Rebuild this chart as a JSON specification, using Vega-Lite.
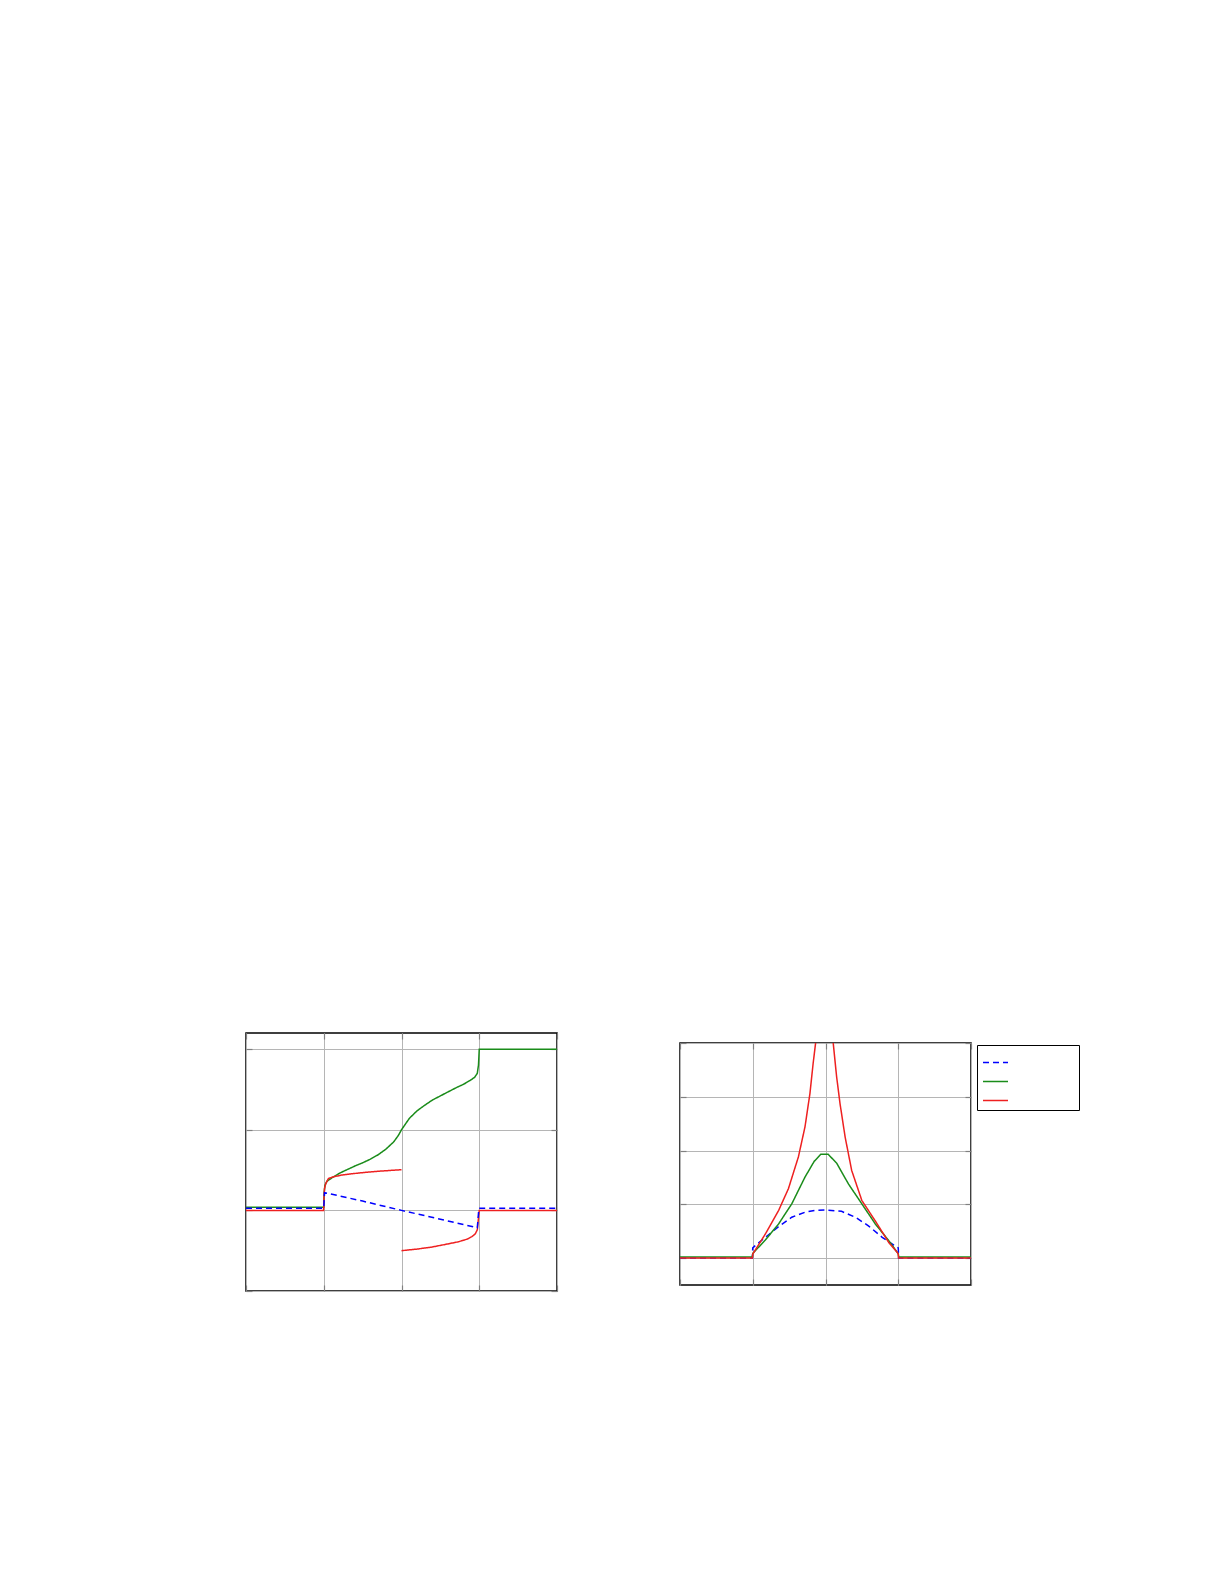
{
  "$schema": "https://vega.github.io/schema/vega-lite/v6.json",
  "padding": {"left": 244, "top": 1031, "right": 0, "bottom": 0},
  "background": "white",
  "config": {
    "view": {"stroke": "black", "strokeWidth": 1.5},
    "axis": {"labels": false, "title": null, "domain": false, "ticks": true, "tickSize": -6, "tickColor": "#808080", "tickWidth": 1.2, "gridColor": "#b5b5b5", "gridWidth": 1},
    "line": {"strokeWidth": 1.5}
  },
  "datasets": {
    "left": [
      {"x": 0, "y": 0.04, "s": "s2", "p": "a"}, {"x": 1.0, "y": 0.04, "s": "s2", "p": "a"}, {"x": 1.005, "y": 0.22, "s": "s2", "p": "a"},
      {"x": 1.015, "y": 0.31, "s": "s2", "p": "a"}, {"x": 1.04, "y": 0.36, "s": "s2", "p": "a"}, {"x": 1.1, "y": 0.40, "s": "s2", "p": "a"},
      {"x": 1.2, "y": 0.46, "s": "s2", "p": "a"}, {"x": 1.3, "y": 0.505, "s": "s2", "p": "a"}, {"x": 1.4, "y": 0.55, "s": "s2", "p": "a"},
      {"x": 1.5, "y": 0.59, "s": "s2", "p": "a"}, {"x": 1.6, "y": 0.635, "s": "s2", "p": "a"}, {"x": 1.7, "y": 0.69, "s": "s2", "p": "a"},
      {"x": 1.8, "y": 0.76, "s": "s2", "p": "a"}, {"x": 1.9, "y": 0.85, "s": "s2", "p": "a"}, {"x": 1.96, "y": 0.93, "s": "s2", "p": "a"},
      {"x": 2.0, "y": 1.0, "s": "s2", "p": "a"}, {"x": 2.05, "y": 1.07, "s": "s2", "p": "a"}, {"x": 2.1, "y": 1.14, "s": "s2", "p": "a"},
      {"x": 2.2, "y": 1.235, "s": "s2", "p": "a"}, {"x": 2.3, "y": 1.305, "s": "s2", "p": "a"}, {"x": 2.4, "y": 1.37, "s": "s2", "p": "a"},
      {"x": 2.5, "y": 1.42, "s": "s2", "p": "a"}, {"x": 2.6, "y": 1.47, "s": "s2", "p": "a"}, {"x": 2.7, "y": 1.52, "s": "s2", "p": "a"},
      {"x": 2.8, "y": 1.565, "s": "s2", "p": "a"}, {"x": 2.88, "y": 1.61, "s": "s2", "p": "a"}, {"x": 2.94, "y": 1.65, "s": "s2", "p": "a"},
      {"x": 2.975, "y": 1.7, "s": "s2", "p": "a"}, {"x": 2.99, "y": 1.8, "s": "s2", "p": "a"}, {"x": 3.0, "y": 2.0, "s": "s2", "p": "a"},
      {"x": 4.0, "y": 2.0, "s": "s2", "p": "a"},
      {"x": 0, "y": 0, "s": "s3", "p": "a"}, {"x": 0.998, "y": 0, "s": "s3", "p": "a"}, {"x": 1.003, "y": 0.15, "s": "s3", "p": "a"},
      {"x": 1.01, "y": 0.27, "s": "s3", "p": "a"}, {"x": 1.025, "y": 0.33, "s": "s3", "p": "a"}, {"x": 1.06, "y": 0.395, "s": "s3", "p": "a"},
      {"x": 1.12, "y": 0.415, "s": "s3", "p": "a"}, {"x": 1.23, "y": 0.438, "s": "s3", "p": "a"}, {"x": 1.35, "y": 0.453, "s": "s3", "p": "a"},
      {"x": 1.53, "y": 0.471, "s": "s3", "p": "a"}, {"x": 1.7, "y": 0.485, "s": "s3", "p": "a"}, {"x": 1.85, "y": 0.495, "s": "s3", "p": "a"},
      {"x": 2.0, "y": 0.504, "s": "s3", "p": "a"},
      {"x": 2.0, "y": -0.5, "s": "s3", "p": "b"}, {"x": 2.2, "y": -0.48, "s": "s3", "p": "b"}, {"x": 2.39, "y": -0.455, "s": "s3", "p": "b"},
      {"x": 2.55, "y": -0.425, "s": "s3", "p": "b"}, {"x": 2.73, "y": -0.39, "s": "s3", "p": "b"}, {"x": 2.85, "y": -0.355, "s": "s3", "p": "b"},
      {"x": 2.905, "y": -0.326, "s": "s3", "p": "b"}, {"x": 2.95, "y": -0.29, "s": "s3", "p": "b"}, {"x": 2.975, "y": -0.24, "s": "s3", "p": "b"},
      {"x": 2.99, "y": -0.1, "s": "s3", "p": "b"}, {"x": 3.0, "y": 0, "s": "s3", "p": "b"}, {"x": 4.0, "y": 0, "s": "s3", "p": "b"},
      {"x": 0, "y": 0.025, "s": "s1", "p": "a"}, {"x": 1.0, "y": 0.025, "s": "s1", "p": "a"}, {"x": 1.01, "y": 0.22, "s": "s1", "p": "a"},
      {"x": 1.5, "y": 0.115, "s": "s1", "p": "a"}, {"x": 2.0, "y": 0.0, "s": "s1", "p": "a"}, {"x": 2.5, "y": -0.11, "s": "s1", "p": "a"},
      {"x": 2.975, "y": -0.215, "s": "s1", "p": "a"}, {"x": 2.995, "y": 0.025, "s": "s1", "p": "a"}, {"x": 4.0, "y": 0.025, "s": "s1", "p": "a"}
    ],
    "right": [
      {"x": 0, "y": 0, "s": "s1"}, {"x": 0.995, "y": 0, "s": "s1"}, {"x": 1.0, "y": 0.19, "s": "s1"}, {"x": 1.04, "y": 0.24, "s": "s1"},
      {"x": 1.173, "y": 0.386, "s": "s1"}, {"x": 1.355, "y": 0.585, "s": "s1"}, {"x": 1.536, "y": 0.76, "s": "s1"}, {"x": 1.718, "y": 0.853, "s": "s1"},
      {"x": 1.85, "y": 0.885, "s": "s1"}, {"x": 2.0, "y": 0.895, "s": "s1"}, {"x": 2.22, "y": 0.87, "s": "s1"}, {"x": 2.41, "y": 0.76, "s": "s1"},
      {"x": 2.59, "y": 0.6, "s": "s1"}, {"x": 2.78, "y": 0.386, "s": "s1"}, {"x": 2.94, "y": 0.24, "s": "s1"}, {"x": 3.0, "y": 0.19, "s": "s1"},
      {"x": 3.005, "y": 0, "s": "s1"}, {"x": 4.0, "y": 0, "s": "s1"},
      {"x": 0, "y": 0.02, "s": "s2"}, {"x": 0.995, "y": 0.02, "s": "s2"}, {"x": 1.0, "y": 0.087, "s": "s2"}, {"x": 1.173, "y": 0.336, "s": "s2"},
      {"x": 1.355, "y": 0.635, "s": "s2"}, {"x": 1.536, "y": 1.008, "s": "s2"}, {"x": 1.718, "y": 1.506, "s": "s2"}, {"x": 1.845, "y": 1.8, "s": "s2"},
      {"x": 1.935, "y": 1.93, "s": "s2"}, {"x": 2.037, "y": 1.93, "s": "s2"}, {"x": 2.153, "y": 1.767, "s": "s2"}, {"x": 2.315, "y": 1.38, "s": "s2"},
      {"x": 2.5, "y": 1.008, "s": "s2"}, {"x": 2.685, "y": 0.635, "s": "s2"}, {"x": 2.87, "y": 0.324, "s": "s2"}, {"x": 3.0, "y": 0.08, "s": "s2"},
      {"x": 3.005, "y": 0.02, "s": "s2"}, {"x": 4.0, "y": 0.02, "s": "s2"},
      {"x": 0, "y": 0, "s": "s3"}, {"x": 0.995, "y": 0, "s": "s3"}, {"x": 1.0, "y": 0.075, "s": "s3"}, {"x": 1.173, "y": 0.448, "s": "s3"},
      {"x": 1.355, "y": 0.884, "s": "s3"}, {"x": 1.49, "y": 1.29, "s": "s3"}, {"x": 1.627, "y": 1.88, "s": "s3"}, {"x": 1.718, "y": 2.44, "s": "s3"},
      {"x": 1.786, "y": 3.06, "s": "s3"}, {"x": 1.83, "y": 3.62, "s": "s3"}, {"x": 1.864, "y": 4.0, "s": "s3"}, {"x": 1.89, "y": 4.35, "s": "s3"},
      {"x": 2.08, "y": 4.35, "s": "s3"}, {"x": 2.106, "y": 4.0, "s": "s3"}, {"x": 2.153, "y": 3.37, "s": "s3"}, {"x": 2.2, "y": 2.87, "s": "s3"},
      {"x": 2.27, "y": 2.25, "s": "s3"}, {"x": 2.36, "y": 1.63, "s": "s3"}, {"x": 2.5, "y": 1.07, "s": "s3"}, {"x": 2.685, "y": 0.69, "s": "s3"},
      {"x": 2.87, "y": 0.29, "s": "s3"}, {"x": 2.986, "y": 0.106, "s": "s3"}, {"x": 3.0, "y": 0.075, "s": "s3"}, {"x": 3.005, "y": 0, "s": "s3"},
      {"x": 4.0, "y": 0, "s": "s3"}
    ]
  },
  "spacing": 119,
  "resolve": {"scale": {"color": "independent", "strokeDash": "independent"}, "legend": {"color": "independent", "strokeDash": "independent"}},
  "hconcat": [
    {
      "width": 311,
      "height": 258,
      "data": {"name": "left"},
      "layer": [
        {
          "mark": {"type": "line", "clip": true},
          "encoding": {
            "x": {"field": "x", "type": "quantitative", "scale": {"domain": [0, 4], "nice": false, "zero": false}, "axis": {"orient": "bottom", "values": [0, 1, 2, 3, 4], "grid": true}},
            "y": {"field": "y", "type": "quantitative", "scale": {"domain": [-1, 2.2], "nice": false, "zero": false}, "axis": {"orient": "left", "values": [-1, 0, 1, 2], "grid": true}},
            "color": {"field": "s", "type": "nominal", "scale": {"domain": ["s1", "s2", "s3"], "range": ["#0000ff", "#1a8c1a", "#ee2020"]}, "legend": null},
            "strokeDash": {"field": "s", "type": "nominal", "scale": {"domain": ["s1", "s2", "s3"], "range": [[6, 4], [1, 0], [1, 0]]}, "legend": null},
            "detail": {"field": "p"}
          }
        },
        {
          "mark": {"type": "point", "opacity": 0, "size": 0, "strokeWidth": 0, "clip": true},
          "encoding": {
            "x": {"field": "x", "type": "quantitative", "axis": {"orient": "top", "values": [0, 1, 2, 3, 4], "grid": false}},
            "y": {"field": "y", "type": "quantitative", "axis": {"orient": "right", "values": [-1, 0, 1, 2], "grid": false}}
          }
        }
      ],
      "resolve": {"axis": {"x": "independent", "y": "independent"}}
    },
    {
      "spacing": 0,
      "resolve": {"scale": {"color": "independent", "strokeDash": "independent"}, "legend": {"color": "independent", "strokeDash": "independent"}},
      "vconcat": [
        {
          "width": 1,
          "height": 8,
          "view": {"stroke": null},
          "data": {"values": [{"a": 1}]},
          "mark": {"type": "point", "opacity": 0, "size": 0, "strokeWidth": 0, "clip": true},
          "encoding": {}
        },
        {
          "width": 291,
          "height": 242,
          "data": {"name": "right"},
          "layer": [
            {
              "mark": {"type": "line", "clip": true},
              "encoding": {
                "x": {"field": "x", "type": "quantitative", "scale": {"domain": [0, 4], "nice": false, "zero": false}, "axis": {"orient": "bottom", "values": [0, 1, 2, 3, 4], "grid": true}},
                "y": {"field": "y", "type": "quantitative", "scale": {"domain": [-0.5, 4], "nice": false, "zero": false}, "axis": {"orient": "left", "values": [0, 1, 2, 3, 4], "grid": true}},
                "color": {"field": "s", "type": "nominal", "scale": {"domain": ["s1", "s2", "s3"], "range": ["#0000ff", "#1a8c1a", "#ee2020"]},
                  "legend": {"orient": "none", "legendX": 297, "legendY": 2, "title": null, "labelExpr": "''", "strokeColor": "black", "fillColor": "white", "padding": 4, "symbolOffset": 1, "symbolType": "stroke", "symbolSize": 625, "symbolStrokeWidth": 1.5, "rowPadding": -5, "labelOffset": 66}},
                "strokeDash": {"field": "s", "type": "nominal", "scale": {"domain": ["s1", "s2", "s3"], "range": [[6, 4], [1, 0], [1, 0]]},
                  "legend": {"orient": "none", "legendX": 297, "legendY": 2, "title": null, "labelExpr": "''", "strokeColor": "black", "fillColor": "white", "padding": 4, "symbolOffset": 1, "symbolType": "stroke", "symbolSize": 625, "symbolStrokeWidth": 1.5, "rowPadding": -5, "labelOffset": 66}}
              }
            },
            {
              "mark": {"type": "point", "opacity": 0, "size": 0, "strokeWidth": 0, "clip": true},
              "encoding": {
                "x": {"field": "x", "type": "quantitative", "axis": {"orient": "top", "values": [0, 1, 2, 3, 4], "grid": false}},
                "y": {"field": "y", "type": "quantitative", "axis": {"orient": "right", "values": [0, 1, 2, 3, 4], "grid": false}}
              }
            }
          ],
          "resolve": {"axis": {"x": "independent", "y": "independent"}}
        }
      ]
    }
  ]
}
